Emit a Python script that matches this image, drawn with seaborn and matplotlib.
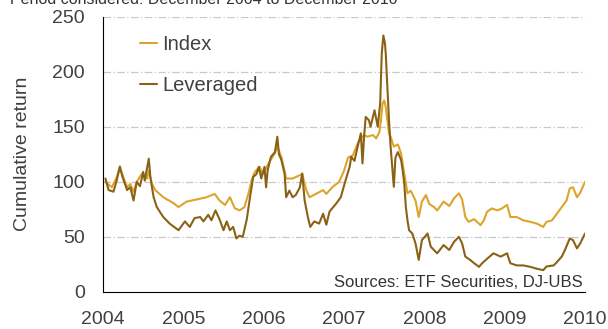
import numpy as np
import pandas as pd
import matplotlib
matplotlib.use("Agg")
import matplotlib.pyplot as plt
import seaborn as sns

# values (decimal year, cumulative return)
index_years = [2004.03, 2004.11, 2004.17, 2004.21, 2004.26, 2004.30, 2004.34, 2004.38, 2004.42, 2004.48,
               2004.55, 2004.57, 2004.61, 2004.65, 2004.75, 2004.88, 2004.94, 2005.04, 2005.17, 2005.29,
               2005.39, 2005.45, 2005.52, 2005.58, 2005.64, 2005.70, 2005.76, 2005.81, 2005.85, 2005.89,
               2005.95, 2005.99, 2006.07, 2006.14, 2006.17, 2006.22, 2006.28, 2006.36, 2006.45, 2006.48,
               2006.53, 2006.57, 2006.65, 2006.74, 2006.78, 2006.86, 2006.94, 2007.00, 2007.05, 2007.11,
               2007.17, 2007.21, 2007.25, 2007.29, 2007.36, 2007.40, 2007.44, 2007.46, 2007.48, 2007.50,
               2007.52, 2007.54, 2007.56, 2007.58, 2007.62, 2007.67, 2007.71, 2007.75, 2007.79, 2007.83,
               2007.89, 2007.93, 2007.97, 2008.02, 2008.06, 2008.12, 2008.16, 2008.24, 2008.31, 2008.37,
               2008.43, 2008.47, 2008.51, 2008.55, 2008.62, 2008.70, 2008.74, 2008.78, 2008.84, 2008.91,
               2008.97, 2009.03, 2009.07, 2009.15, 2009.23, 2009.32, 2009.40, 2009.48, 2009.52, 2009.59,
               2009.65, 2009.71, 2009.77, 2009.81, 2009.85, 2009.90, 2009.94, 2010.00]
index_vals = [100, 95, 104, 113, 103, 95, 98, 91, 100, 107,
              103, 110, 98, 92.5, 86, 80.5, 77, 82, 84, 86,
              89, 83, 79, 86, 76, 74, 77, 89, 101.5, 109,
              113.6, 107, 118, 126, 132, 122.7, 103, 103, 106, 107,
              92.5, 86, 89, 92.5, 89, 95.5, 100, 110, 122, 124,
              135, 139.5, 142.5, 141, 142.5, 139.5, 145, 156, 171, 174,
              168, 156, 144, 141, 132, 134, 126, 107.6, 89.5, 92,
              83, 68, 82, 88, 80, 77, 74, 82, 78, 85,
              89.5, 84, 68, 63.6, 66, 60.6, 65, 72.7, 75.8, 74,
              76, 79, 68, 68, 65, 63.6, 62, 59, 63.6, 65,
              71, 77, 83, 94, 95, 86, 90, 100]

lev_years = [2004.03, 2004.07, 2004.13, 2004.17, 2004.21, 2004.24, 2004.30, 2004.34, 2004.38, 2004.42,
             2004.46, 2004.50, 2004.52, 2004.57, 2004.59, 2004.63, 2004.67, 2004.75, 2004.83, 2004.94,
             2005.02, 2005.08, 2005.14, 2005.21, 2005.25, 2005.31, 2005.35, 2005.40, 2005.45, 2005.50,
             2005.54, 2005.58, 2005.62, 2005.66, 2005.70, 2005.74, 2005.79, 2005.83, 2005.87, 2005.91,
             2005.94, 2005.97, 2006.01, 2006.03, 2006.05, 2006.09, 2006.14, 2006.17, 2006.19, 2006.22,
             2006.26, 2006.28, 2006.32, 2006.36, 2006.40, 2006.45, 2006.48, 2006.51, 2006.55, 2006.58,
             2006.63, 2006.69, 2006.74, 2006.78, 2006.82, 2006.90, 2006.96, 2007.02, 2007.07, 2007.09,
             2007.13, 2007.17, 2007.21, 2007.23, 2007.25, 2007.27, 2007.31, 2007.33, 2007.38, 2007.42,
             2007.45, 2007.47, 2007.49, 2007.51, 2007.52, 2007.54, 2007.56, 2007.58, 2007.60, 2007.62,
             2007.64, 2007.67, 2007.71, 2007.73, 2007.75, 2007.77, 2007.79, 2007.81, 2007.85, 2007.89,
             2007.93, 2007.97, 2008.04, 2008.08, 2008.16, 2008.24, 2008.31, 2008.37, 2008.43, 2008.47,
             2008.51, 2008.57, 2008.62, 2008.68, 2008.72, 2008.78, 2008.86, 2008.95, 2009.03, 2009.07,
             2009.15, 2009.23, 2009.32, 2009.40, 2009.48, 2009.52, 2009.61, 2009.65, 2009.71, 2009.75,
             2009.81, 2009.85, 2009.90, 2009.94, 2010.00]
lev_vals = [103, 92.5, 91, 101, 114, 105, 92.5, 95, 83, 100,
            96, 109, 101, 121, 104, 86, 77, 68, 62, 56,
            64, 59, 67, 68, 64, 70, 65, 74, 66, 56,
            64, 56, 59, 48.5, 51, 50, 66, 86, 104.5, 107,
            113.6, 103, 113.6, 95, 110.6, 122.7, 127, 141, 125, 120,
            107.6, 86, 92, 86, 88, 95, 107.6, 83, 68, 59,
            64, 62, 71, 61, 73, 80, 86, 101.5, 113.6, 122.7,
            119, 132, 144, 116.7, 141, 159, 156, 150, 165, 150,
            171, 216.7, 233, 225.8, 216, 186, 156, 132, 113.6, 95.5,
            122, 127, 120, 110.6, 98.5, 77, 65, 56, 53, 44,
            29, 47, 53, 41, 35, 42.5, 38, 45.5, 50, 44,
            32, 29, 26, 22.7, 26, 30, 35, 32, 35, 26,
            24, 24, 22.7, 21, 19.7, 23, 24, 27, 32, 38,
            48.5, 47, 39.5, 44, 53]

year_ticks = [2004, 2005, 2006, 2007, 2008, 2009, 2010]
y_ticks = [0, 50, 100, 150, 200, 250]

df = pd.concat([
    pd.DataFrame({"year": index_years, "value": index_vals, "series": "Index"}),
    pd.DataFrame({"year": lev_years, "value": lev_vals, "series": "Leveraged"}),
])

sns.set_style("white")
plt.rcParams["font.family"] = ["Liberation Sans", "DejaVu Sans"]
txt = "#404040"

fig = plt.figure(figsize=(6.08, 3.29), dpi=100)
ax = fig.add_axes([0.1694, 0.113, 0.7928, 0.836])

sns.lineplot(data=df, x="year", y="value", hue="series", estimator=None, sort=False,
             palette={"Index": "#DDA42C", "Leveraged": "#8A6216"}, linewidth=1.5, ax=ax)

ax.set_xlim(2004, 2010)
ax.set_ylim(0, 250)
ax.set_xticks(year_ticks)
ax.set_xticklabels([str(y) for y in year_ticks])
ax.set_yticks(y_ticks)
ax.set_xlabel("")
ax.set_ylabel("Cumulative return", fontsize=14, color=txt)
ax.yaxis.set_label_coords(-0.15, 0.5)

for yv in y_ticks[1:]:
    ax.axhline(yv, color="#C8C8C8", lw=0.9, ls=(0, (6, 2, 1, 2)), zorder=0)

sns.despine(ax=ax)
ax.spines["left"].set_color("black")
ax.spines["bottom"].set_color("black")
ax.tick_params(axis="x", direction="in", length=5, width=1, color="black",
               labelsize=14, labelcolor=txt, pad=14)
ax.tick_params(axis="y", direction="out", length=4.5, width=1, color="#555555",
               labelsize=14, labelcolor=txt, pad=8.5)

leg = ax.legend(loc="upper left", bbox_to_anchor=(0.04, 1.0), frameon=False,
                fontsize=14.5, handlelength=0.8, handletextpad=0.3, labelspacing=1.12)
for t in leg.get_texts():
    t.set_color(txt)

ax.text(0.995, 0.005, "Sources: ETF Securities, DJ-UBS", transform=ax.transAxes,
        ha="right", va="bottom", fontsize=12, color="#333333")

fig.text(0.016, 0.989, "Period considered: December 2004 to December 2010",
         ha="left", va="baseline", fontsize=11.5, color="#333333")

fig.savefig("out.png", dpi=100)
